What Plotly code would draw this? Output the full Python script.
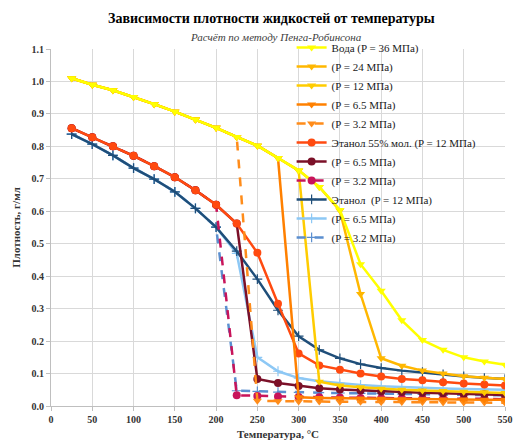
import plotly.graph_objects as go

temps = [25, 50, 75, 100, 125, 150, 175, 200, 225, 250, 275, 300,
         325, 350, 375, 400, 425, 450, 475, 500, 525, 550]

water_36 = [1.01, 0.99, 0.973, 0.952, 0.93, 0.907, 0.883, 0.857, 0.829, 0.802, 0.764, 0.726,
            0.675, 0.604, 0.437, 0.355, 0.264, 0.203, 0.173, 0.150, 0.137, 0.127]
water_24 = [1.01, 0.99, 0.973, 0.952, 0.93, 0.907, 0.883, 0.857, 0.829, 0.802, 0.764, 0.726,
            0.675, 0.602, 0.345, 0.147, 0.124, 0.109, 0.100, 0.092, 0.087, 0.083]
water_12 = [1.01, 0.99, 0.973, 0.952, 0.93, 0.907, 0.883, 0.857, 0.829, 0.802, 0.764, 0.725,
            0.075, 0.063, 0.058, 0.053, 0.050, 0.048, 0.046, 0.044, 0.042, 0.040]
water_6_5 = [1.01, 0.99, 0.973, 0.952, 0.93, 0.907, 0.883, 0.857, 0.829, 0.802, 0.764, 0.027,
             0.025, 0.024, 0.023, 0.022, 0.021, 0.021, 0.020, 0.020, 0.019, 0.019]
water_3_2 = [1.01, 0.99, 0.973, 0.952, 0.93, 0.907, 0.883, 0.857, 0.829, 0.016, 0.015, 0.014,
             0.014, 0.013, 0.013, 0.012, 0.012, 0.012, 0.011, 0.011, 0.011, 0.010]

eth55_12 = [0.856, 0.828, 0.800, 0.771, 0.739, 0.705, 0.665, 0.620, 0.562, 0.472, 0.315, 0.162,
            0.125, 0.112, 0.100, 0.091, 0.083, 0.079, 0.073, 0.069, 0.066, 0.063]
eth55_6_5 = [0.856, 0.828, 0.800, 0.771, 0.739, 0.705, 0.665, 0.620, 0.562, 0.083, 0.071, 0.062,
             0.055, 0.051, 0.048, 0.045, 0.043, 0.041, 0.039, 0.037, 0.036, 0.034]
eth55_3_2 = [0.856, 0.828, 0.800, 0.771, 0.739, 0.705, 0.665, 0.620, 0.033, 0.031, 0.029, 0.028,
             0.027, 0.026, 0.025, 0.024, 0.024, 0.023, 0.023, 0.022, 0.022, 0.021]

eth_12 = [0.838, 0.807, 0.772, 0.733, 0.699, 0.660, 0.609, 0.551, 0.477, 0.391, 0.295, 0.215,
          0.173, 0.147, 0.129, 0.117, 0.109, 0.104, 0.097, 0.091, 0.086, 0.083]
eth_6_5 = [0.838, 0.807, 0.772, 0.733, 0.699, 0.660, 0.609, 0.551, 0.470, 0.150, 0.107, 0.086,
           0.076, 0.070, 0.065, 0.061, 0.058, 0.056, 0.054, 0.052, 0.051, 0.050]
eth_3_2 = [0.838, 0.807, 0.772, 0.733, 0.699, 0.660, 0.609, 0.551, 0.047, 0.045, 0.043, 0.042,
           0.041, 0.040, 0.039, 0.038, 0.037, 0.036, 0.035, 0.034, 0.034, 0.033]

series = [
    ("Вода (P = 36 МПа)", water_36, "#FFFF00", "solid", "triangle-down"),
    ("(P = 24 МПа)", water_24, "#FFB700", "solid", "triangle-down"),
    ("(P = 12 МПа)", water_12, "#FFCC00", "solid", "triangle-down"),
    ("(P = 6.5 МПа)", water_6_5, "#FF8000", "solid", "triangle-down"),
    ("(P = 3.2 МПа)", water_3_2, "#FF8C1A", "dash", "triangle-down"),
    ("Этанол 55% мол. (P = 12 МПа)", eth55_12, "#FF4A10", "solid", "circle"),
    ("(P = 6.5 МПа)", eth55_6_5, "#7B1028", "solid", "circle"),
    ("(P = 3.2 МПа)", eth55_3_2, "#C8145A", "dash", "circle"),
    ("Этанол  (P = 12 МПа)", eth_12, "#1F4E79", "solid", "cross-thin"),
    ("(P = 6.5 МПа)", eth_6_5, "#8DC8F5", "solid", "cross-thin"),
    ("(P = 3.2 МПа)", eth_3_2, "#5B8FD0", "dash", "cross-thin"),
]

fig = go.Figure()
n = len(series)
for i in reversed(range(n)):
    name, ys, color, dash, sym = series[i]
    if sym == "cross-thin":
        marker = dict(symbol=sym, size=7, color=color, line=dict(color=color, width=1.2))
    else:
        marker = dict(symbol=sym, size=8, color=color, line=dict(width=0))
    fig.add_trace(go.Scatter(
        x=temps, y=ys, name=name, mode="lines+markers",
        line=dict(color=color, width=2.5, dash=dash),
        marker=marker, legendrank=i + 1,
    ))

FF = "Liberation Serif"

fig.update_layout(
    width=522, height=448,
    margin=dict(l=51, r=9, t=49, b=38),
    paper_bgcolor="white", plot_bgcolor="white",
    font=dict(family=FF, color="#404040"),
    showlegend=True,
    legend=dict(x=0.53, y=1.045, xanchor="left", yanchor="top",
                bgcolor="rgba(0,0,0,0)", font=dict(size=11, color="#1a1a1a", family=FF),
                tracegroupgap=0, itemwidth=30, traceorder="normal"),
    xaxis=dict(range=[0, 550], dtick=50, tick0=0, showgrid=True, gridcolor="#D9D9D9",
               gridwidth=1, zeroline=False, showline=True, linecolor="#BFBFBF",
               ticks="outside", ticklen=4, tickcolor="#BFBFBF",
               tickprefix="<b>", ticksuffix="</b>",
               tickfont=dict(size=10, family=FF, color="#333333"),
               title=dict(text="<b>Температура, °С</b>",
                          font=dict(size=11, color="#333333", family=FF), standoff=6)),
    yaxis=dict(range=[0, 1.1], dtick=0.1, tick0=0, tickformat=".1f", showgrid=True,
               gridcolor="#D9D9D9", gridwidth=1, zeroline=False, showline=True,
               linecolor="#BFBFBF", ticks="outside", ticklen=4, tickcolor="#BFBFBF",
               tickprefix="<b>", ticksuffix="</b>",
               tickfont=dict(size=10, family=FF, color="#333333"),
               title=dict(text="<b>Плотность, г/мл</b>",
                          font=dict(size=11, color="#333333", family=FF), standoff=8)),
    annotations=[
        dict(text="<b>Зависимости плотности жидкостей от температуры</b>",
             xref="paper", yref="paper", x=0.485, y=1.0, yshift=40,
             showarrow=False, font=dict(size=14, color="#000000", family=FF)),
        dict(text="<i>Расчёт по методу Пенга-Робинсона</i>",
             xref="paper", yref="paper", x=0.496, y=1.0, yshift=20,
             showarrow=False, font=dict(size=11, color="#404040", family=FF)),
    ],
)

fig.write_html("out.html")
